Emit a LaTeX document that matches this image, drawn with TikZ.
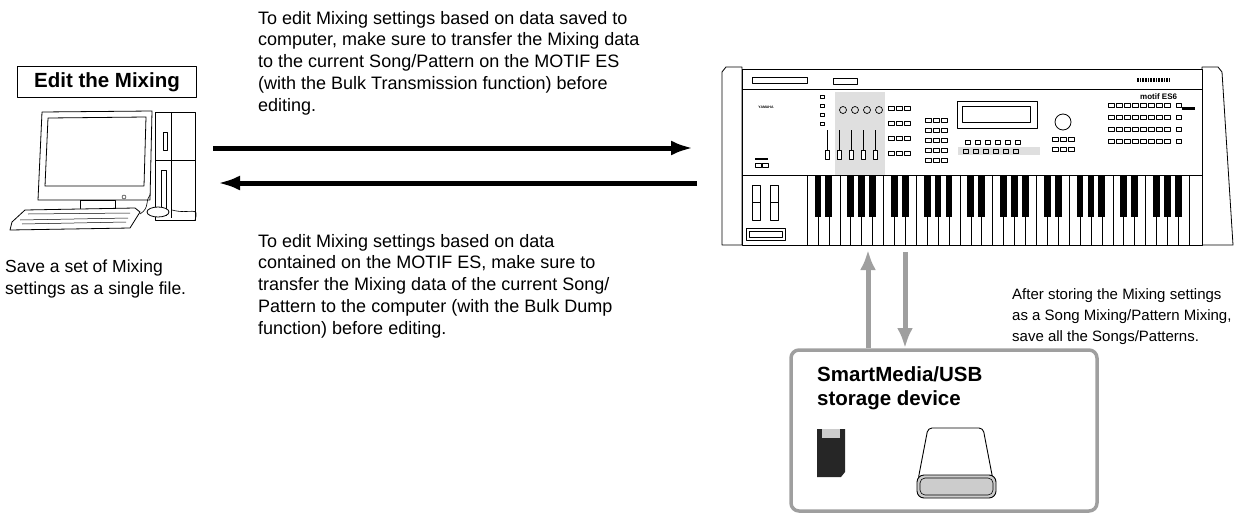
\documentclass[tikz,border=0pt]{standalone}
\usepackage{fontspec}
\setmainfont{Liberation Sans}
\usetikzlibrary{arrows.meta}
\begin{document}
\begin{tikzpicture}[x=1pt,y=-1pt,line join=round,
  txt/.style={anchor=north west,align=left,inner sep=0pt,font=\fontsize{18}{21.7}\selectfont},
  bigarrow/.style={line width=5pt,-{Latex[length=22pt,width=15pt]}},
  grayarrow/.style={draw=gray!75,line width=5pt,-{Latex[length=20pt,width=16pt]}},
  ln/.style={draw=black,line width=0.8pt,fill=white}]
\useasboundingbox (0,0) rectangle (1240,517);
% Edit the Mixing label
\node[draw,line width=1pt,inner xsep=6pt,inner ysep=4pt,minimum width=179pt,minimum height=31pt,font=\fontsize{20.5}{22}\selectfont\bfseries] (edit) at (107,82) {Edit the Mixing};
% computer
\begin{scope}
\draw[ln] (155,112) rectangle (195,220);
\draw[line width=0.8pt] (171,112)--(171,218) (155,160)--(195,160);
\draw[line width=0.8pt] (161,170) rectangle (166,215);
\draw[line width=0.8pt] (163,132) rectangle (167,150);
\draw[ln] (42,112)--(152,111)--(150,200)--(38,200)--cycle;
\draw[line width=0.8pt] (48,118)--(146,117)--(144,186)--(45,186)--cycle;
\draw[ln] (80,200) rectangle (115,212);
\draw[line width=0.6pt] (140,214) .. controls (150,208) and (145,200) .. (150,195);
\draw[line width=0.6pt] (172,210) .. controls (190,215) and (200,205) .. (195,220);
\draw[ln] (12,222)--(25,210)--(135,208)--(140,212)--(130,228)--(10,230)--cycle;
\draw[line width=0.5pt] (20,220)--(128,218) (22,224)--(126,222) (28,214)--(130,213);
\draw[ln] (158,212) ellipse (11 and 5);
\draw (124,197) circle (2);
\end{scope}
\node[txt,font=\fontsize{17.5}{21.7}\selectfont] (save) at (5,260) {Save a set of Mixing\\settings as a single file.};
% keyboard
\begin{scope}
\draw[ln] (722,72)--(726,67)--(742,67)--(742,245)--(722,245)--cycle;
\draw[ln] (1202,67)--(1218,67)--(1222,72)--(1233,245)--(1202,245)--cycle;
\draw[ln] (742,69) rectangle (1202,245);
\draw[line width=0.8pt] (742,89)--(1202,89) (742,175)--(1202,175);
\draw[line width=0.8pt] (807,175)--(807,245);
\draw[line width=0.6pt] (752,77) rectangle (807,83);
\draw[line width=0.6pt] (833,78) rectangle (857,84);
\node[font=\fontsize{3.5}{4}\selectfont\bfseries,inner sep=0pt] (yam) at (766,107) {YAMAHA};
\foreach \i in {0,...,20}{\draw[line width=0.4pt] (1137+\i*1.6,78)--(1137+\i*1.6,82);}
\fill[gray!25] (835,92) rectangle (885,175);
\foreach \i in {0,...,3}{\draw[line width=0.7pt] (843+\i*12,110) circle (3.5);}
\foreach \i in {0,...,4}{\draw[line width=0.6pt] (827+\i*12,130)--(827+\i*12,155); \draw[ln,line width=0.5pt] (825+\i*12,150) rectangle (829+\i*12,159);}
\foreach \i in {0,...,3}{\draw[line width=0.5pt] (820,95+\i*9) rectangle (824,98+\i*9);}
\foreach \r in {0,...,3}{\foreach \c in {0,...,2}{\draw[line width=0.5pt] (888+\c*8,106+\r*15) rectangle (894+\c*8,110+\r*15);}}
\foreach \r in {0,...,4}{\foreach \c in {0,...,2}{\draw[line width=0.5pt] (925+\c*8,118+\r*10) rectangle (931+\c*8,122+\r*10);}}
\draw[line width=0.8pt] (957,101) rectangle (1037,128);
\draw[line width=0.6pt] (962,106) rectangle (1030,122);
\fill[gray!25] (958,147) rectangle (1040,155);
\foreach \c in {0,...,5}{\draw[line width=0.5pt] (965+\c*10,140) rectangle (970+\c*10,144); \draw[line width=0.5pt] (963+\c*10,149) rectangle (968+\c*10,153);}
\draw[line width=0.8pt] (1063,122) circle (8);
\foreach \c in {0,...,2}{\draw[line width=0.5pt] (1052+\c*8,137) rectangle (1058+\c*8,141);\draw[line width=0.5pt] (1052+\c*8,147) rectangle (1058+\c*8,151);}
\foreach \r in {0,...,3}{\foreach \c in {0,...,7}{\draw[line width=0.5pt] (1108+\c*8,103+\r*12) rectangle (1114+\c*8,107+\r*12);}
 \draw[line width=0.5pt] (1176,103+\r*12) rectangle (1181,107+\r*12);}
\node[font=\fontsize{8}{8}\selectfont\bfseries,inner sep=0pt,anchor=west] (motif) at (1140,97) {motif ES6};
\fill (1182,107) rectangle (1195,110);
\fill (755,158) rectangle (768,160);
\draw[line width=0.5pt] (755,163) rectangle (761,167) (762,163) rectangle (768,167);
\draw[line width=0.8pt] (752,185) rectangle (760,220) (770,185) rectangle (778,220);
\draw[line width=0.6pt] (752,202)--(760,202) (770,202)--(778,202);
\draw[line width=0.8pt] (746,228) rectangle (785,240) (749,231) rectangle (782,237);
\foreach \i in {0,...,35}{\draw[line width=0.5pt] (807+\i*10.92,175)--(807+\i*10.92,245);}
\foreach \o in {0,...,4}{
  \foreach \k in {1,2,4,5,6}{\fill (807+\o*76.44+\k*10.92-3.4,175) rectangle ++(6.8,42);}}
\end{scope}
% arrows
\coordinate (kbL1) at (693,148);
\coordinate (pcR1) at (213,148);
\coordinate (kbL2) at (697,183);
\coordinate (pcR2) at (218,183);
\draw[bigarrow] (pcR1)--(kbL1);
\draw[bigarrow] (kbL2)--(pcR2);
\node[txt] (t1) at (258,11) {To edit Mixing settings based on data saved to\\computer, make sure to transfer the Mixing data\\to the current Song/Pattern on the MOTIF ES\\(with the Bulk Transmission function) before\\editing.};
\node[txt] (t2) at (258,234) {To edit Mixing settings based on data\\contained on the MOTIF ES, make sure to\\transfer the Mixing data of the current Song/\\Pattern to the computer (with the Bulk Dump\\function) before editing.};
% storage
\draw[draw=gray!75,line width=3.5pt,rounded corners=8pt] (791,350) rectangle (1097,511);
\node[anchor=north west,align=left,inner sep=0pt,font=\fontsize{20.5}{24}\selectfont\bfseries] (st) at (817,366) {SmartMedia/USB\\storage device};
\coordinate (b1) at (868,348); \coordinate (k1) at (868,250);
\coordinate (b2) at (905,348); \coordinate (k2) at (905,252);
\draw[grayarrow] (b1)--(k1);
\draw[grayarrow] (k2)--(b2);
\node[txt,font=\fontsize{15}{21}\selectfont] (t3) at (1012,288) {After storing the Mixing settings\\as a Song Mixing/Pattern Mixing,\\save all the Songs/Patterns.};
% SD card
\fill[black!85] (817,429) -- (845,429) -- (845,472) -- (841,477) -- (817,477) -- cycle;
\fill[gray!40] (822,429) rectangle (840,438);
% USB
\draw[line width=0.9pt,fill=white,rounded corners=4pt] (928,428)--(983,428)--(993,480)--(918,480)--cycle;
\draw[line width=0.9pt,fill=gray!40,rounded corners=7pt] (917,475) rectangle (996,498);
\draw[line width=0.6pt,rounded corners=5pt] (920,478) rectangle (993,495);
\end{tikzpicture}
\end{document}
